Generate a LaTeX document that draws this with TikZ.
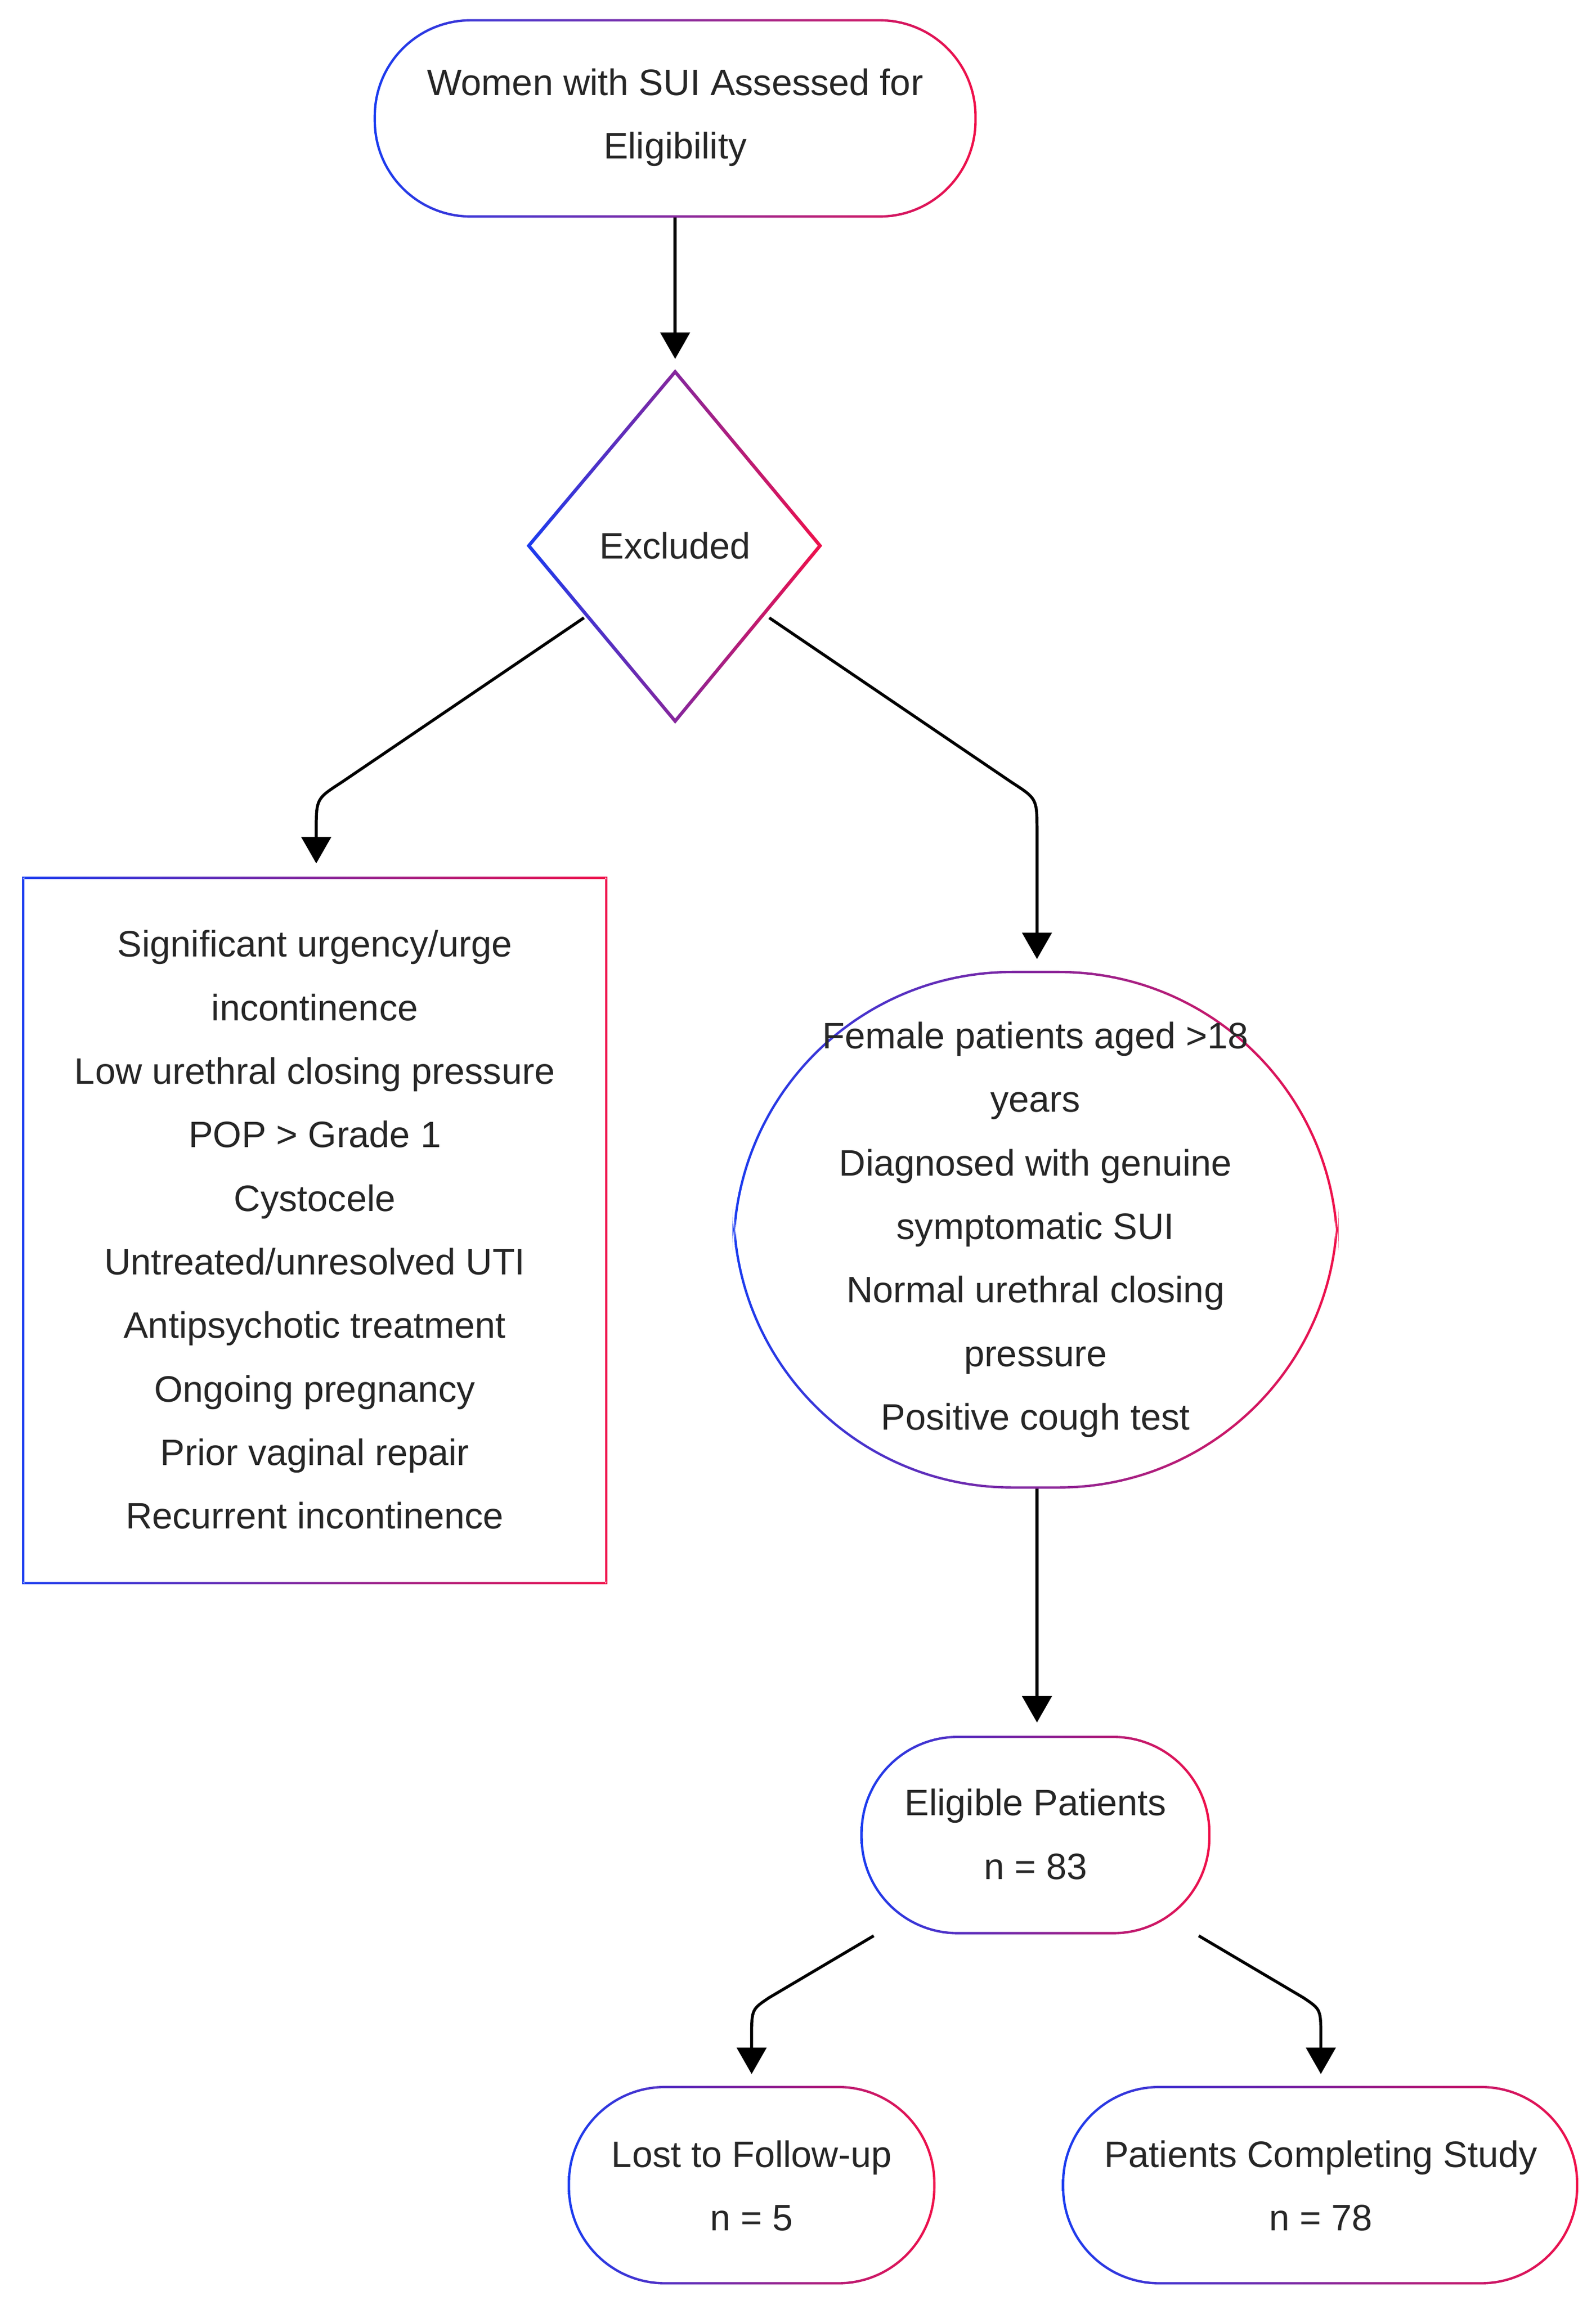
\documentclass[tikz,border=0pt]{standalone}
\usepackage{fontspec}
\setmainfont{Liberation Sans}
\usetikzlibrary{arrows.meta}
\definecolor{gblue}{HTML}{1A3CF0}
\definecolor{gred}{HTML}{F0104A}
\newcommand{\gbox}[5]{\shade[left color=gblue,right color=gred,even odd rule]
  [rounded corners=#5pt] (#1,#2) rectangle (#3,#4)
  [rounded corners=#5pt-0.8pt] ($(#1,#2)+(1.6,1.6)$) rectangle ($(#3,#4)+(-1.6,-1.6)$);}
\usetikzlibrary{calc}
\begin{document}
\begin{tikzpicture}[x=0.5pt,y=-0.5pt,
  txt/.style={align=center,font=\fontsize{12.5}{21.6}\selectfont,text=black!85},
  arr/.style={line width=1pt,-{Triangle[width=10pt,length=9pt]}}]
\useasboundingbox (0,0) rectangle (1085,1567);
\fill[white] (0,0) rectangle (1085,1567);
% shapes
\gbox{254}{13}{664}{148}{33}
\shade[left color=gblue,right color=gred,even odd rule]
  (459,251) -- (559,371) -- (459,492) -- (358,371) -- cycle
  (459,254.5) -- (556,371) -- (459,488.5) -- (361,371) -- cycle;
\gbox{15}{596}{413}{1077}{0}
\gbox{498}{660}{910}{1012}{95}
\gbox{585}{1180}{823}{1315}{33}
\gbox{386}{1418}{636}{1553}{33}
\gbox{722}{1418}{1073}{1553}{33}
% nodes
\node[txt] (top) at (459,80) {Women with SUI Assessed for\\Eligibility};
\node[txt] (exc) at (459,371) {Excluded};
\node[txt] (box) at (214,836) {Significant urgency/urge\\incontinence\\Low urethral closing pressure\\POP > Grade 1\\Cystocele\\Untreated/unresolved UTI\\Antipsychotic treatment\\Ongoing pregnancy\\Prior vaginal repair\\Recurrent incontinence};
\node[txt] (inc) at (704,836) {Female patients aged >18\\years\\Diagnosed with genuine\\symptomatic SUI\\Normal urethral closing\\pressure\\Positive cough test};
\node[txt] (eli) at (704,1247) {Eligible Patients\\n = 83};
\node[txt] (lost) at (511,1486) {Lost to Follow-up\\n = 5};
\node[txt] (comp) at (898,1486) {Patients Completing Study\\n = 78};
% anchor coordinates
\coordinate (topB) at (459,148);
\coordinate (excT) at (459,244);
\coordinate (excL) at (397,420);
\coordinate (excR) at (523,420);
\coordinate (boxT) at (215,587);
\coordinate (incT) at (705,652);
\coordinate (incB) at (705,1012);
\coordinate (eliT) at (705,1171);
\coordinate (eliL) at (594,1316);
\coordinate (eliR) at (815,1316);
\coordinate (lostT) at (511,1410);
\coordinate (compT) at (898,1410);
% connectors
\draw[arr] (topB) -- (excT);
\draw[arr] (excL) -- (232,532) .. controls (215,543) .. (215,565) -- (boxT);
\draw[arr] (excR) -- (688,532) .. controls (705,543) .. (705,565) -- (incT);
\draw[arr] (incB) -- (eliT);
\draw[arr] (eliL) -- (523,1358) .. controls (511,1366) .. (511,1385) -- (lostT);
\draw[arr] (eliR) -- (886,1358) .. controls (898,1366) .. (898,1385) -- (compT);
\end{tikzpicture}
\end{document}
